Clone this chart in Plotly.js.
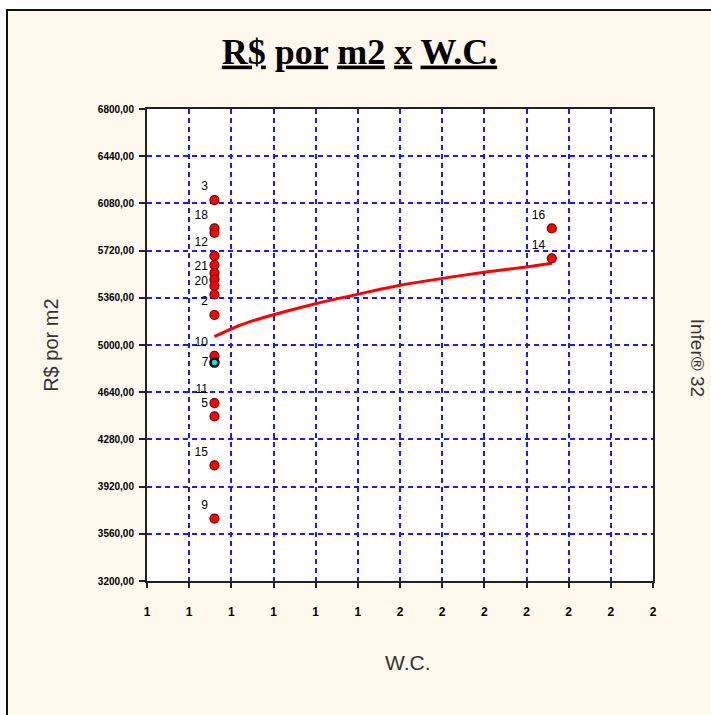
<!DOCTYPE html>
<html>
<head>
<meta charset="utf-8">
<script src="https://cdn.plot.ly/plotly-3.0.1.min.js"></script>
<style>
  html, body { margin: 0; padding: 0; background: #ffffff; overflow: hidden; }
  #frame {
    position: absolute; left: 6px; top: 9px;
    width: 703px; height: 704px;
    border-left: 2px solid #111; border-top: 2px solid #111;
    background: #fff9ed;
  }
  #chart { width: 703px; height: 704px; }
</style>
</head>
<body>
<div id="frame"><div id="chart"></div></div>
<script>
// Sampled properties: number of W.C. and price per square metre (R$)
const wcValues    = [1, 1, 1, 1, 1, 1, 1, 1, 1, 1, 1, 1, 1, 1, 1, 2, 2];
const pricePerM2  = [6105, 5889, 5856, 5680, 5610, 5550, 5500, 5450, 5385, 5229,
                     4917, 4557, 4455, 4082, 3676, 5889, 5661];
const pointLabels = ["3", "18", "", "12", "", "", "21", "", "20", "2",
                     "10", "11", "5", "15", "9", "16", "14"];

// Element under evaluation
const evalWc    = [1];
const evalPrice = [4866];
const evalLabel = ["7"];

// Fitted regression curve
const fitWc    = [1.0, 1.03, 1.07, 1.12, 1.18, 1.3, 1.43, 1.55, 1.68, 1.8, 1.93, 2.0];
const fitPrice = [5064, 5100, 5145, 5190, 5235, 5315, 5390, 5455, 5510, 5555, 5597, 5623];

// Axis ticks
const xTickVals = [0.8, 0.925, 1.05, 1.175, 1.3, 1.425, 1.55, 1.675, 1.8, 1.925, 2.05, 2.175, 2.3];
const xTickText = ["1", "1", "1", "1", "1", "1", "2", "2", "2", "2", "2", "2", "2"];
const yTickVals = [3200, 3560, 3920, 4280, 4640, 5000, 5360, 5720, 6080, 6440, 6800];

const sans = "Liberation Sans, Arial, sans-serif";

const traces = [
  {
    x: fitWc, y: fitPrice, type: "scatter", mode: "lines",
    line: { color: "#ff0000", width: 3, shape: "spline", smoothing: 0.6 },
    hoverinfo: "skip"
  },
  {
    x: wcValues, y: pricePerM2, text: pointLabels, type: "scatter", mode: "markers+text",
    textposition: "top left",
    textfont: { family: sans, size: 12, color: "#000" },
    marker: { color: "#ff0000", size: 9, symbol: "circle", line: { color: "#700000", width: 1.2 } }
  },
  {
    x: evalWc, y: evalPrice, text: evalLabel, type: "scatter", mode: "markers+text",
    textposition: "middle left",
    textfont: { family: sans, size: 12, color: "#000" },
    marker: { color: "#00e8e8", size: 8, symbol: "circle", line: { color: "#000", width: 2.5 } }
  }
];

const gridStyle = { gridcolor: "#1a1aff", gridwidth: 2, griddash: "5px,4px" };

const layout = {
  width: 703, height: 704,
  paper_bgcolor: "#fff9ed",
  plot_bgcolor: "#ffffff",
  showlegend: false,
  separators: ",.",
  margin: { l: 139, r: 58, t: 98, b: 134, pad: 0 },
  title: {
    text: "<b><u>R$</u> <u>por</u> <u>m2</u> <u>x</u> <u>W.C.</u></b>",
    font: { family: "Liberation Serif, Times New Roman, serif", size: 36, color: "#000" },
    x: 0.5, xref: "container", xanchor: "center",
    y: 1 - 40 / 704, yref: "container", yanchor: "middle"
  },
  xaxis: Object.assign({
    range: [0.8, 2.3], tickmode: "array", tickvals: xTickVals, ticktext: xTickText,
    showgrid: true, zeroline: false,
    showline: true, mirror: true, linecolor: "#222", linewidth: 2,
    ticks: "outside", ticklen: 5, tickwidth: 2, tickcolor: "#222",
    ticklabelstandoff: 14,
    tickfont: { family: sans, size: 12, color: "#000", weight: "bold" }
  }, gridStyle),
  yaxis: Object.assign({
    range: [3200, 6800], tickmode: "array", tickvals: yTickVals, tickformat: ".2f",
    showgrid: true, zeroline: false,
    showline: true, mirror: true, linecolor: "#222", linewidth: 2,
    ticks: "outside", ticklen: 6, tickwidth: 2, tickcolor: "#222",
    ticklabelstandoff: 3,
    tickfont: { family: "Liberation Sans Narrow, Arial Narrow, Liberation Sans, sans-serif", size: 10, color: "#000", weight: "bold" }
  }, gridStyle),
  annotations: [
    {
      text: "R$ por m2", xref: "paper", yref: "paper", x: -0.19, y: 0.5,
      textangle: -90, showarrow: false, xanchor: "center", yanchor: "middle",
      font: { family: sans, size: 20, color: "#333" }
    },
    {
      text: "W.C.", xref: "paper", yref: "paper", x: 0.516, y: -0.1725,
      showarrow: false, xanchor: "center", yanchor: "middle",
      font: { family: sans, size: 21, color: "#333" }
    },
    {
      text: "Infer® 32", xref: "paper", yref: "paper", x: 1.087, y: 0.473,
      textangle: 90, showarrow: false, xanchor: "center", yanchor: "middle",
      font: { family: sans, size: 19, color: "#333" }
    }
  ]
};

Plotly.newPlot("chart", traces, layout, { displayModeBar: false, staticPlot: true });
</script>
</body>
</html>
